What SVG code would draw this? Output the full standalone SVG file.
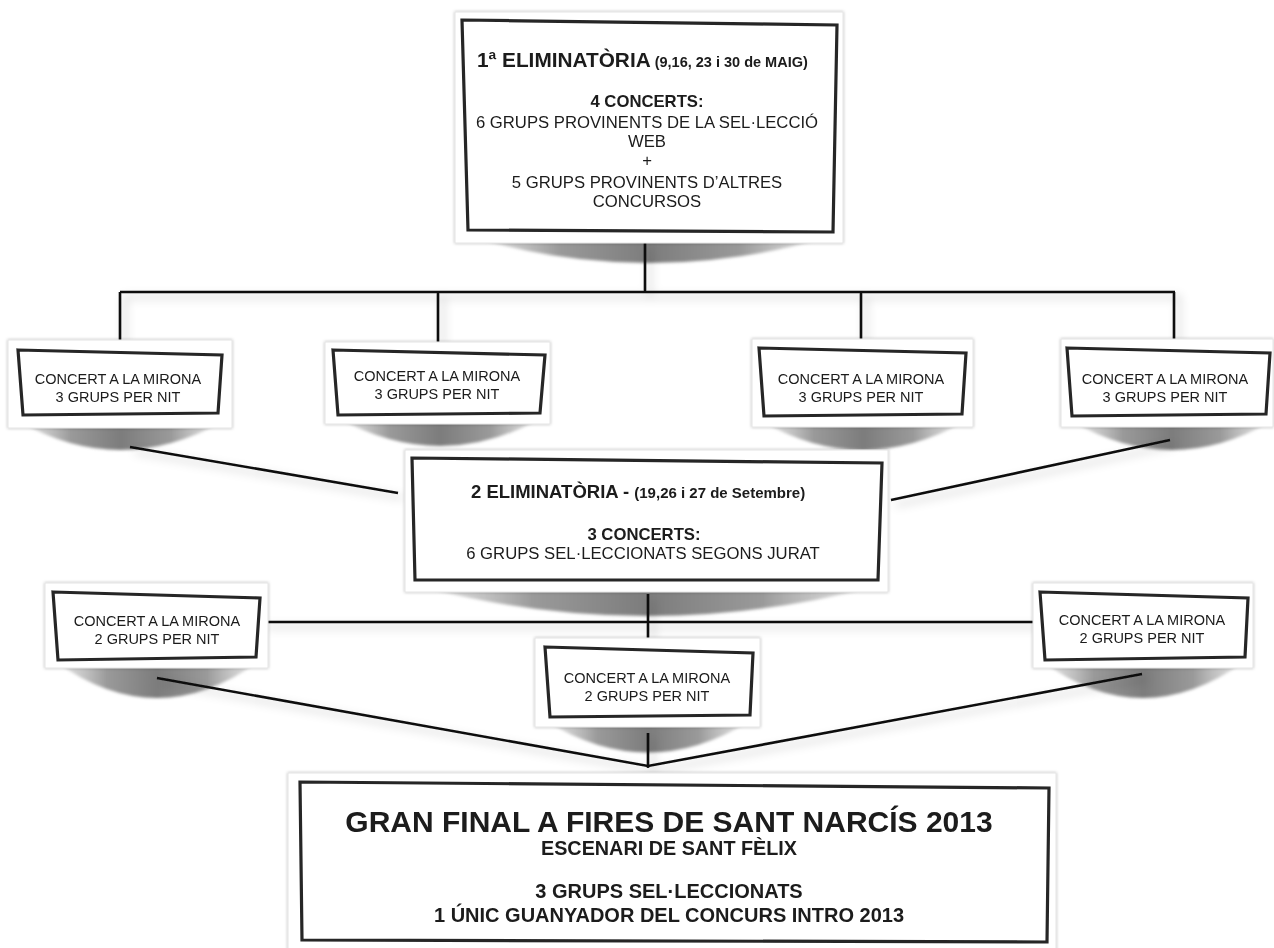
<svg xmlns="http://www.w3.org/2000/svg" width="1274" height="948" viewBox="0 0 1274 948">
<defs>
<linearGradient id="sh" x1="0" y1="0" x2="1" y2="0">
<stop offset="0" stop-color="#d0d0d0" stop-opacity="0.5"/>
<stop offset="0.25" stop-color="#9a9a9a"/>
<stop offset="0.5" stop-color="#7c7c7c"/>
<stop offset="0.75" stop-color="#9a9a9a"/>
<stop offset="1" stop-color="#d0d0d0" stop-opacity="0.5"/>
</linearGradient>
<filter id="blur" x="-10%" y="-30%" width="120%" height="160%"><feGaussianBlur stdDeviation="1.8"/></filter>
<filter id="cs" x="-5%" y="-10%" width="110%" height="120%"><feDropShadow dx="0" dy="0" stdDeviation="1.6" flood-color="#000" flood-opacity="0.28"/></filter>
<filter id="ls" x="-10%" y="-10%" width="130%" height="140%"><feDropShadow dx="5" dy="5" stdDeviation="5" flood-color="#000" flood-opacity="0.22"/></filter>
</defs>
<style>
.card{fill:#fff;stroke:#e4e4e4;stroke-width:1}
.frame{fill:none;stroke:#262626;stroke-width:3.2;stroke-linejoin:miter}
.shd{fill:url(#sh);filter:url(#blur)}
.conn{stroke:#111;stroke-width:2.6;fill:none;stroke-linecap:butt}
.t{font-family:"Liberation Sans",Arial,Helvetica,sans-serif;fill:#1a1a1a;text-anchor:middle}
.b{font-weight:bold}
.s{font-size:14.5px}
.m{font-size:16.7px}
</style>
<rect width="1274" height="948" fill="#fff"/>
<g id="shadows">
<path class="shd" d="M468,236 Q648,290 832,236 Z"/>
<path class="shd" d="M20,422 Q120,478 222,422 Z"/>
<path class="shd" d="M338,418 Q440,474 542,418 Z"/>
<path class="shd" d="M763,422 Q862,478 964,422 Z"/>
<path class="shd" d="M1073,422 Q1172,478 1270,422 Z"/>
<path class="shd" d="M418,586 Q648,646 877,586 Z"/>
<path class="shd" d="M56,662 Q157,734 258,662 Z"/>
<path class="shd" d="M546,721 Q648,784 750,721 Z"/>
<path class="shd" d="M1043,662 Q1142,734 1244,662 Z"/>
</g>
<g id="connectors" filter="url(#ls)">
<path class="conn" d="M645,243 V292 M120,292 H1175 M120,292 V340 M438,292 V342 M861,292 V339 M1174,292 V340"/>
<path class="conn" d="M130,447 L398,493 M1170,440 L891,500"/>
<path class="conn" d="M648,594 V638 M262,622 H1033 M648,733 V768 M157,678 L648,766 L1142,674"/>
</g>
<g id="n_elim1" filter="url(#cs)">
<rect class="card" x="455" y="12" width="388" height="231"/>
<polygon class="frame" points="462,20 837,25 833,232 468,230"/>
<text class="t b" x="477" y="67" style="text-anchor:start"><tspan font-size="20.8">1ª ELIMINATÒRIA</tspan><tspan font-size="14.5" dx="4">(9,16, 23 i 30 de MAIG)</tspan></text>
<text class="t b m" x="647" y="107">4 CONCERTS:</text>
<text class="t m" x="647" y="128">6 GRUPS PROVINENTS DE LA SEL·LECCIÓ</text>
<text class="t m" x="647" y="147">WEB</text>
<text class="t m" x="647" y="166">+</text>
<text class="t m" x="647" y="188">5 GRUPS PROVINENTS D’ALTRES</text>
<text class="t m" x="647" y="207">CONCURSOS</text>
</g>
<g id="n_c1" filter="url(#cs)">
<rect class="card" x="8" y="340" width="224" height="88"/>
<polygon class="frame" points="18,350 222,355 218,413 23,415"/>
<text class="t s" x="118" y="384">CONCERT A LA MIRONA</text>
<text class="t s" x="118" y="402">3 GRUPS PER NIT</text>
</g>
<g id="n_c2" filter="url(#cs)">
<rect class="card" x="325" y="342" width="225" height="82"/>
<polygon class="frame" points="333,350 545,355 540,413 338,415"/>
<text class="t s" x="437" y="381">CONCERT A LA MIRONA</text>
<text class="t s" x="437" y="399">3 GRUPS PER NIT</text>
</g>
<g id="n_c3" filter="url(#cs)">
<rect class="card" x="752" y="339" width="221" height="88"/>
<polygon class="frame" points="759,348 966,353 962,414 764,416"/>
<text class="t s" x="861" y="384">CONCERT A LA MIRONA</text>
<text class="t s" x="861" y="402">3 GRUPS PER NIT</text>
</g>
<g id="n_c4" filter="url(#cs)">
<rect class="card" x="1061" y="339" width="212" height="88"/>
<polygon class="frame" points="1067,348 1270,353 1266,414 1072,416"/>
<text class="t s" x="1165" y="384">CONCERT A LA MIRONA</text>
<text class="t s" x="1165" y="402">3 GRUPS PER NIT</text>
</g>
<g id="n_elim2" filter="url(#cs)">
<rect class="card" x="405" y="450" width="483" height="142"/>
<polygon class="frame" points="412,458 882,463 878,580 415,580"/>
<text class="t b" x="471" y="498" style="text-anchor:start"><tspan font-size="18.5">2 ELIMINATÒRIA -</tspan><tspan font-size="15" dx="5">(19,26 i 27 de Setembre)</tspan></text>
<text class="t b m" x="644" y="540">3 CONCERTS:</text>
<text class="t m" x="643" y="559">6 GRUPS SEL·LECCIONATS SEGONS JURAT</text>
</g>
<g id="n_d1" filter="url(#cs)">
<rect class="card" x="45" y="583" width="223" height="85"/>
<polygon class="frame" points="53,592 260,598 256,657 58,660"/>
<text class="t s" x="157" y="626">CONCERT A LA MIRONA</text>
<text class="t s" x="157" y="644">2 GRUPS PER NIT</text>
</g>
<g id="n_d2" filter="url(#cs)">
<rect class="card" x="535" y="638" width="225" height="89"/>
<polygon class="frame" points="545,647 753,653 750,715 550,717"/>
<text class="t s" x="647" y="683">CONCERT A LA MIRONA</text>
<text class="t s" x="647" y="701">2 GRUPS PER NIT</text>
</g>
<g id="n_d3" filter="url(#cs)">
<rect class="card" x="1033" y="583" width="220" height="85"/>
<polygon class="frame" points="1040,592 1248,598 1245,657 1045,660"/>
<text class="t s" x="1142" y="625">CONCERT A LA MIRONA</text>
<text class="t s" x="1142" y="643">2 GRUPS PER NIT</text>
</g>
<g id="n_final" filter="url(#cs)">
<rect class="card" x="288" y="773" width="768" height="180"/>
<polygon class="frame" points="300,782 1049,788 1047,942 302,940"/>
<text class="t b" x="669" y="832" font-size="30">GRAN FINAL A FIRES DE SANT NARCÍS 2013</text>
<text class="t b" x="669" y="855" font-size="19.8">ESCENARI DE SANT FÈLIX</text>
<text class="t b" x="669" y="898" font-size="20">3 GRUPS SEL·LECCIONATS</text>
<text class="t b" x="669" y="922" font-size="20">1 ÚNIC GUANYADOR DEL CONCURS INTRO 2013</text>
</g>
</svg>
